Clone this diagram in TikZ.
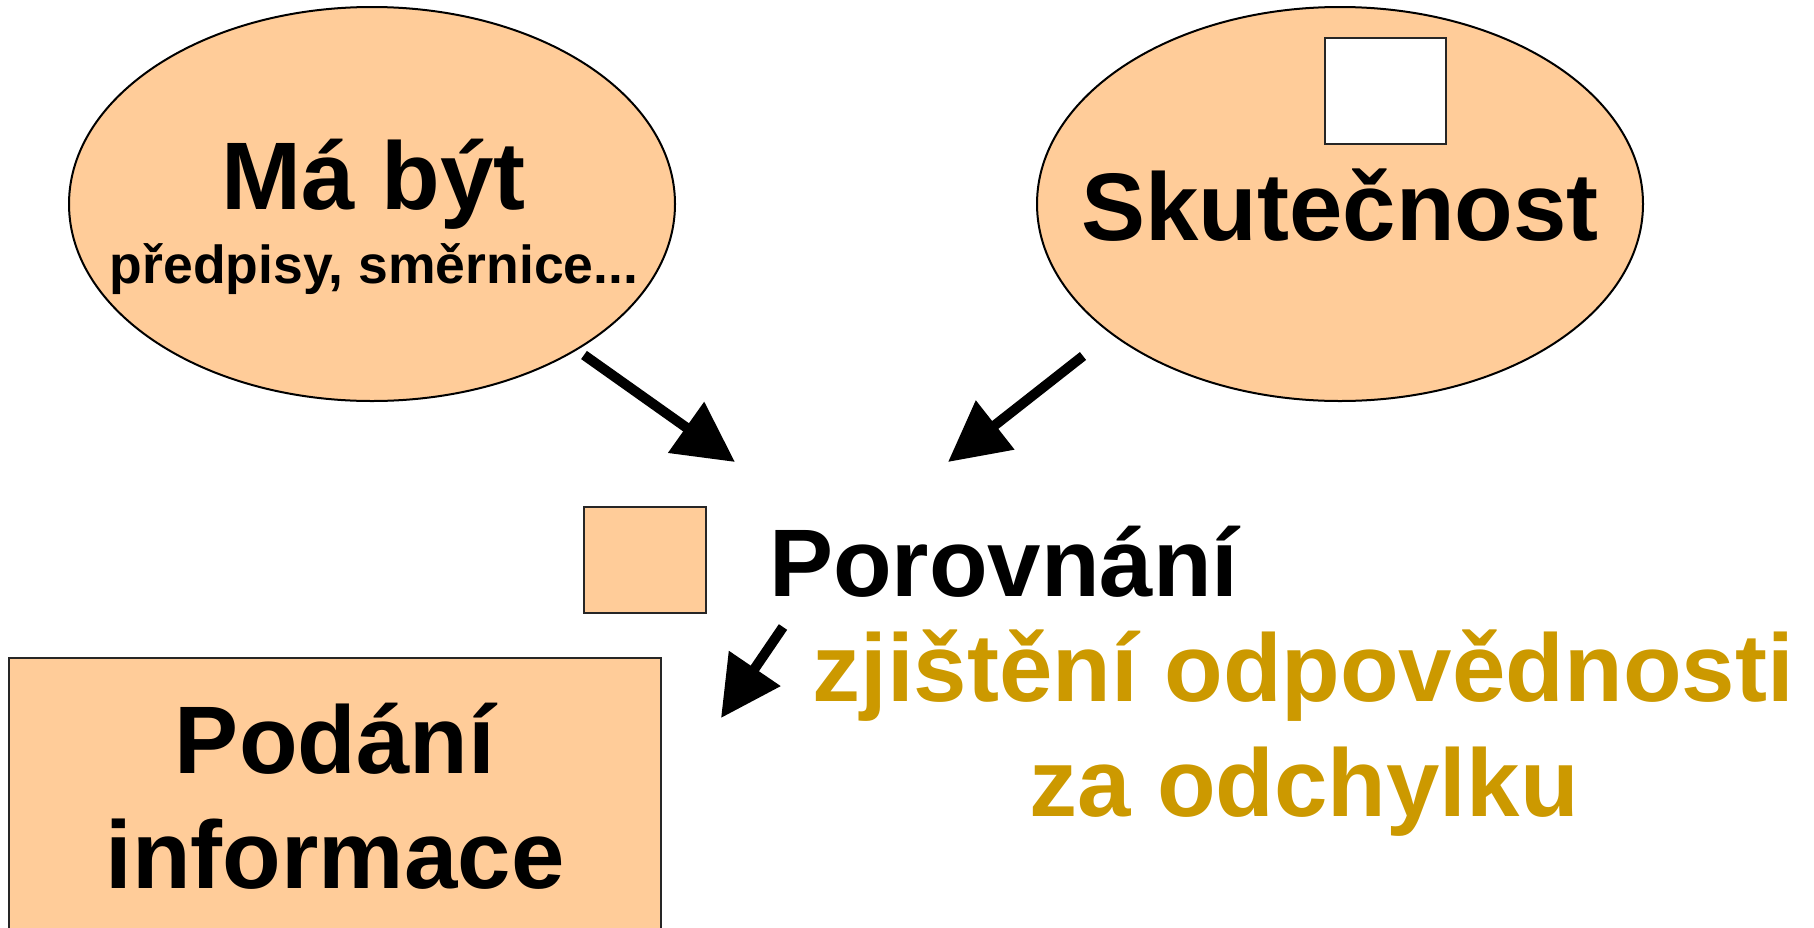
\documentclass[tikz,border=0pt]{standalone}
\usepackage{fontspec}
\setmainfont{Liberation Sans}
\usetikzlibrary{shapes.geometric,arrows.meta}
\definecolor{peach}{HTML}{FFCC99}
\definecolor{gold}{HTML}{CC9900}
\begin{document}
\begin{tikzpicture}[x=1pt,y=-1pt,
  bubble/.style={ellipse, draw=black, line width=2pt, fill=peach, minimum width=606pt, minimum height=394pt, inner sep=0pt},
  box/.style={rectangle, draw=black!85, line width=2.5pt, inner sep=0pt},
  bigtext/.style={font=\fontsize{96}{115}\selectfont\bfseries, inner sep=0pt, anchor=base},
  smalltext/.style={font=\fontsize{53.5}{64}\selectfont\bfseries, inner sep=0pt, anchor=base},
  arr/.style={line width=10pt, -{Triangle[length=60pt,width=60pt]}}]
\path[use as bounding box] (0,0) rectangle (1814,927);
\clip (0,0) rectangle (1814,927);
% shapes
\node[bubble] (mabyt) at (372,204) {};
\node[bubble] (skut) at (1340,204) {};
\node[box, fill=white, minimum width=121pt, minimum height=106pt] (wbox) at (1385.5,91) {};
\node[box, fill=peach, minimum width=122pt, minimum height=106pt] (sq) at (645,560) {};
\node[box, fill=peach, minimum width=652pt, minimum height=320pt] (info) at (335,818) {};
% texts
\node[bigtext] (t1) at (374,209) {Má být};
\node[smalltext] (t2) at (374,283) {předpisy, směrnice...};
\node[bigtext] (t3) at (1340,240) {Skutečnost};
\node[bigtext, anchor=base west] (t4) at (769,596) {Porovnání};
\node[bigtext] (t5) at (335,773) {Podání};
\node[bigtext] (t6) at (335,888) {informace};
\node[bigtext, text=gold] (t7) at (1303,701) {zjištění odpovědnosti};
\node[bigtext, text=gold] (t8) at (1304,816) {za odchylku};
% arrows
\coordinate (a1s) at (584,355); \coordinate (a1e) at (735,462);
\coordinate (a2s) at (1083,356); \coordinate (a2e) at (948,462);
\coordinate (a3s) at (783,627); \coordinate (a3e) at (721,718);
\draw[arr] (a1s) -- (a1e);
\draw[arr] (a2s) -- (a2e);
\draw[arr] (a3s) -- (a3e);
\end{tikzpicture}
\end{document}
